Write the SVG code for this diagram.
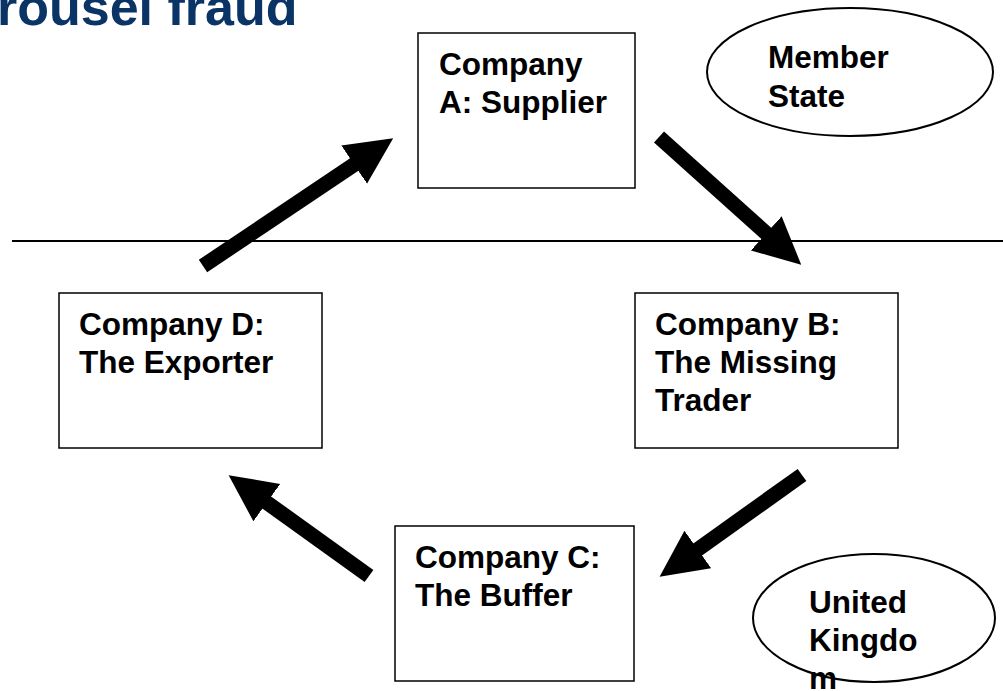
<svg xmlns="http://www.w3.org/2000/svg" width="1003" height="691" viewBox="0 0 1003 691">
<style>
.box{fill:#fff;stroke:#000;stroke-width:1.5}
.ell{fill:#fff;stroke:#000;stroke-width:2}
.t{font-family:"Liberation Sans",Arial,sans-serif;font-weight:bold;font-size:31.5px;fill:#000}
.title{font-family:"Liberation Sans",Arial,sans-serif;font-weight:bold;font-size:52px;fill:#0a3466}
.arr{stroke:#000;stroke-width:15;fill:none;marker-end:url(#ah)}
</style>
<defs>
<marker id="ah" markerUnits="userSpaceOnUse" markerWidth="48" markerHeight="48" refX="1" refY="23" orient="auto" viewBox="0 0 48 46">
<path d="M0,0 L47,23 L0,46 z" fill="#000"/>
</marker>
</defs>
<rect width="1003" height="691" fill="#fff"/>
<text class="title" x="-3" y="25">rousel fraud</text>
<line x1="12" y1="241" x2="1003" y2="241" stroke="#000" stroke-width="2"/>
<g id="member-state"><ellipse class="ell" cx="850" cy="72" rx="143" ry="64"/>
<text class="t"><tspan x="768" y="68">Member</tspan><tspan x="768" y="107">State</tspan></text></g>
<g id="uk"><ellipse class="ell" cx="874" cy="618" rx="121" ry="64"/>
<text class="t"><tspan x="809" y="613">United</tspan><tspan x="809" y="651">Kingdo</tspan><tspan x="809" y="689">m</tspan></text></g>
<g id="companyA"><rect class="box" x="418" y="33" width="217" height="155"/>
<text class="t"><tspan x="439" y="75">Company</tspan><tspan x="439" y="113">A: Supplier</tspan></text></g>
<g id="companyB"><rect class="box" x="635" y="293" width="263" height="155"/>
<text class="t"><tspan x="655" y="335">Company B:</tspan><tspan x="655" y="373">The Missing</tspan><tspan x="655" y="411">Trader</tspan></text></g>
<g id="companyC"><rect class="box" x="395" y="526" width="239" height="155"/>
<text class="t"><tspan x="415" y="568">Company C:</tspan><tspan x="415" y="606">The Buffer</tspan></text></g>
<g id="companyD"><rect class="box" x="59" y="293" width="263" height="155"/>
<text class="t"><tspan x="79" y="335">Company D:</tspan><tspan x="79" y="373">The Exporter</tspan></text></g>
<g id="connectors">
<line class="arr" x1="203" y1="266" x2="355" y2="164"/>
<line class="arr" x1="659" y1="137" x2="767" y2="234"/>
<line class="arr" x1="802" y1="475" x2="697" y2="550"/>
<line class="arr" x1="369" y1="576" x2="266" y2="502"/>
</g>
</svg>
